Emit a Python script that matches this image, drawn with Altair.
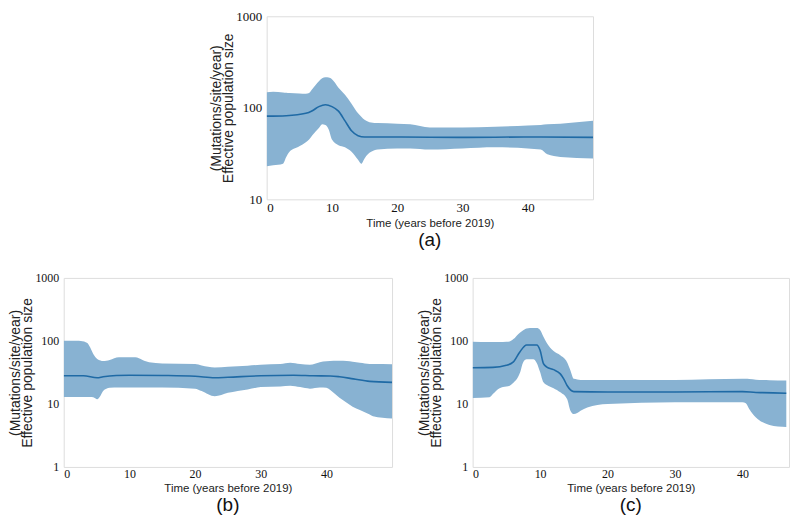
import altair as alt
import pandas as pd

# ---------------- Panel (a) ----------------
a_t_band = [0, 1, 2.5, 3, 3.5, 5, 6, 6.5, 7, 8, 8.5, 9, 9.5, 10, 11, 12, 13, 14, 14.5,
            15, 15.5, 16, 17, 20, 22, 25, 30, 35, 40, 42, 43, 45, 50]
a_upper = [148, 150, 147, 146, 145, 143, 142, 145, 160, 195, 210, 215, 214, 205, 166, 139, 111, 87, 80,
           74, 71, 69, 68, 67, 66, 61, 61, 62, 64, 65, 66, 67, 72]
a_lower = [23, 23.5, 24.5, 29, 33, 38, 42, 45, 50, 60, 66, 65, 58, 45, 39, 37, 33, 27, 24.5,
           28, 31, 33, 35, 36, 36, 35, 36, 37, 36, 35, 31, 29, 28]
a_t_mid = [0, 3, 6, 7, 8, 9, 10, 11, 12, 13, 14, 15, 20, 30, 40, 50]
a_mid = [81, 82, 87, 93, 103, 108, 103, 92, 72, 56, 49.5, 48, 48, 47.5, 48, 47.5]

# ---------------- Panel (b) ----------------
b_t_band = [0, 2, 2.6, 3.6, 4, 4.5, 5.1, 5.6, 6, 7, 8.4, 10.9, 12, 13, 15, 20, 21, 23, 25, 28,
            30, 33, 34.5, 36, 37.5, 39, 40, 41.1, 42, 43.1, 44, 45.1, 46.6, 47.1, 50]
b_upper = [101, 101, 100, 93, 80, 62, 51.7, 49, 48, 50, 55, 55, 50, 46, 44, 43, 40.7, 37.8, 39, 40.5,
           42, 43, 45, 43, 42, 46, 47.5, 48.3, 48.5, 48, 46.6, 45, 43, 43, 42.5]
b_lower = [12.9, 12.9, 12.9, 12.9, 12.9, 12.8, 11.9, 13.5, 16, 18, 18.3, 18.3, 18.3, 18.2, 18.2, 17.5, 16, 13.2, 15, 17,
           18.5, 19, 19.5, 18.5, 17.5, 18.3, 18, 15, 12.5, 10.4, 9, 8, 6.8, 6.4, 5.9]
b_t_mid = [0, 3, 5.1, 6, 8, 10, 15, 20, 23, 25, 30, 35, 38, 40.6, 42, 44.1, 46.6, 50]
b_mid = [28, 28, 26, 27, 28.3, 28.6, 28.3, 27.5, 26, 26.5, 28, 28.5, 28, 27.8, 27, 25, 22.8, 22]

# ---------------- Panel (c) ----------------
c_t_band = [0, 2.5, 3, 4, 5, 5.5, 6, 7, 7.5, 8, 9, 9.5, 10, 10.5, 11, 12, 13, 14, 14.5, 15,
            15.5, 16, 17, 20, 30, 40, 40.5, 41, 42, 43, 44, 46.5]
c_upper = [97, 96, 96, 96, 97, 98, 106, 135, 148, 158, 160, 160, 149, 116, 93, 69, 59, 46, 34, 25,
           24.5, 24, 24, 24, 24, 25, 25, 24.8, 24.3, 24, 23.8, 23.5]
c_lower = [12.4, 12.8, 14.4, 17.8, 18.9, 19.5, 21.4, 30.9, 46, 51, 51, 44.7, 32, 22, 20, 17.8, 15.3, 12, 7.8, 6.9,
           7.2, 7.8, 8.8, 10, 10.6, 10.6, 10.3, 8.3, 6.1, 5.1, 4.65, 4.3]
c_t_mid = [0, 3, 5, 6, 7, 8, 9.5, 10, 10.5, 11, 12, 13, 13.5, 14, 15, 20, 30, 40, 42, 43, 46.5]
c_mid = [37.6, 38, 41, 46, 67, 86, 86, 71, 43.5, 38.5, 35, 30, 25, 19.6, 15.7, 15.5, 15.5, 15.7, 15.2, 15.1, 14.8]

x_ticks = [0, 10, 20, 30, 40]
x_title = "Time (years before 2019)"
y_title = ["(Mutations/site/year)", "Effective population size"]

BAND = "#88b2d2"
LINE = "#1f6aa5"


def panel(t_band, low, up, t_mid, mid, xmax, ymin, yticks, w, h, label, labsize, extent):
    band_df = pd.DataFrame({"t": t_band, "low": low, "up": up})
    mid_df = pd.DataFrame({"t": t_mid, "mid": mid})
    xs = alt.Scale(domain=[0, xmax], nice=False, zero=False)
    ys = alt.Scale(type="log", domain=[ymin, 1000], nice=False)
    xaxis = alt.Axis(values=x_ticks, title=x_title, grid=False, ticks=False, domain=False,
                     labelFont="Liberation Serif", labelFontSize=labsize, labelColor="#111",
                     labelPadding=2, titleFont="Liberation Sans", titleFontSize=11.5,
                     titleFontWeight="normal", titleColor="#222", titlePadding=3)
    yaxis = alt.Axis(values=yticks, format="d", title=y_title, grid=False, ticks=False, domain=False,
                     labelFont="Liberation Serif", labelFontSize=labsize, labelColor="#111",
                     labelPadding=5, titleFont="Liberation Sans", titleFontSize=14,
                     titleFontWeight="normal", titleColor="#222", titlePadding=2,
                     titleLineHeight=12.5, minExtent=extent, maxExtent=extent)
    area = alt.Chart(band_df).mark_area(color=BAND, opacity=1, interpolate="monotone", clip=True).encode(
        x=alt.X("t:Q", scale=xs, axis=xaxis),
        y=alt.Y("low:Q", scale=ys, axis=yaxis),
        y2="up:Q",
    )
    line = alt.Chart(mid_df).mark_line(color=LINE, strokeWidth=1.6, interpolate="monotone", clip=True).encode(
        x=alt.X("t:Q", scale=xs, axis=xaxis),
        y=alt.Y("mid:Q", scale=ys, axis=yaxis),
    )
    return alt.layer(area, line).properties(
        width=w, height=h,
        title=alt.TitleParams(text=label, orient="bottom", font="Liberation Sans", fontSize=19,
                              fontWeight="normal", color="#111", offset=2),
    )


pa = panel(a_t_band, a_lower, a_upper, a_t_mid, a_mid, 50, 10, [10, 100, 1000], 328, 184, "(a)", 13, 29)
pb = panel(b_t_band, b_lower, b_upper, b_t_mid, b_mid, 50, 1, [1, 10, 100, 1000], 330, 190, "(b)", 12, 27)
pc = panel(c_t_band, c_lower, c_upper, c_t_mid, c_mid, 46.9, 1, [1, 10, 100, 1000], 318, 190, "(c)", 12, 27)

spacer = alt.Chart(alt.Data(values=[{"s": 0}])).mark_point(opacity=0, size=0).encode(
    x=alt.value(0), y=alt.value(0)
).properties(width=146, height=10, view=alt.ViewBackground(strokeOpacity=0))

top = alt.hconcat(spacer, pa, spacing=0)
bottom = alt.hconcat(pb, pc, spacing=24)

chart = alt.vconcat(top, bottom, spacing=21, padding=0).configure_view(
    stroke="#8a8a8a", strokeWidth=1.5
).configure(background="white")

chart.save("out.html", embed_options={"renderer": "svg", "actions": False})
